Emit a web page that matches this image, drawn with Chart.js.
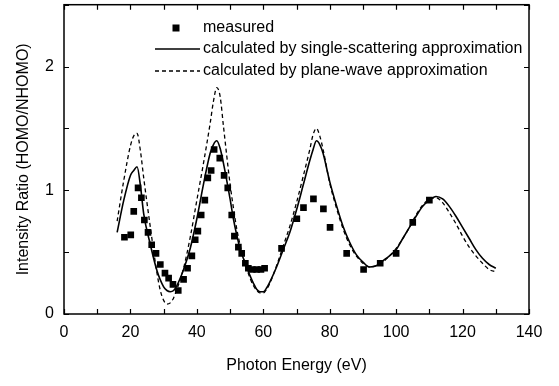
<!DOCTYPE html>
<html>
<head>
<meta charset="utf-8">
<script src="https://cdn.jsdelivr.net/npm/chart.js@4"></script>
<style>
  html, body { margin: 0; padding: 0; background: #fff; }
</style>
</head>
<body>
<canvas id="ratioChart" width="559" height="386"></canvas>
<script>
const FONT = '"Liberation Sans", Arial, Helvetica, sans-serif';

// measured HOMO/NHOMO intensity ratio
const measuredEnergy = [18.2, 20.1, 21.0, 22.3, 23.3, 24.2, 25.3, 26.4, 27.7, 29.0, 30.4, 31.5, 32.8, 34.4, 36.0, 37.2, 38.5, 39.5, 40.3, 41.3, 42.4, 43.3, 44.3, 45.2, 46.9, 48.2, 49.3, 50.5, 51.3, 52.5, 53.5, 54.6, 55.5, 56.7, 58.0, 59.3, 60.4, 65.5, 70.1, 72.1, 75.1, 78.1, 80.1, 85.1, 90.2, 95.2, 100.0, 105.0, 110.0];
const measuredRatio  = [0.62, 0.64, 0.83, 1.02, 0.94, 0.76, 0.66, 0.56, 0.49, 0.40, 0.33, 0.29, 0.24, 0.19, 0.28, 0.37, 0.47, 0.60, 0.67, 0.80, 0.92, 1.10, 1.16, 1.33, 1.26, 1.12, 1.02, 0.80, 0.63, 0.54, 0.49, 0.41, 0.37, 0.36, 0.36, 0.36, 0.37, 0.53, 0.77, 0.86, 0.93, 0.85, 0.70, 0.49, 0.36, 0.41, 0.49, 0.74, 0.92];

// single-scattering calculation
const ssEnergy = [16, 18, 20, 21, 22, 23, 24, 26, 28, 30, 31, 32, 33, 34, 36, 38, 40, 42, 44, 45, 46, 47, 48, 50, 51, 52, 53, 54, 55, 56, 57, 58, 59, 60, 61, 62, 64, 66, 68, 70, 72, 74, 75, 76, 77, 78, 80, 82, 84, 86, 88, 90, 92, 94, 96, 98, 100, 102, 104, 106, 108, 110, 112, 114, 116, 118, 120, 122, 124, 126, 128, 130];
const ssRatio  = [0.66, 0.92, 1.12, 1.16, 1.19, 1.04, 0.81, 0.56, 0.35, 0.22, 0.19, 0.18, 0.19, 0.23, 0.36, 0.53, 0.77, 1.05, 1.30, 1.37, 1.40, 1.34, 1.22, 0.93, 0.77, 0.64, 0.53, 0.45, 0.38, 0.31, 0.25, 0.20, 0.18, 0.18, 0.21, 0.26, 0.38, 0.52, 0.66, 0.84, 1.04, 1.24, 1.33, 1.40, 1.37, 1.30, 1.07, 0.88, 0.71, 0.58, 0.48, 0.42, 0.38, 0.39, 0.43, 0.47, 0.52, 0.61, 0.70, 0.79, 0.87, 0.92, 0.95, 0.93, 0.87, 0.79, 0.70, 0.61, 0.52, 0.45, 0.40, 0.37];

// plane-wave calculation
const pwEnergy = [16, 18, 20, 21, 22, 23, 24, 26, 28, 29, 30, 31, 32, 33, 34, 36, 38, 40, 42, 44, 45, 46, 47, 48, 50, 51, 52, 53, 54, 55, 56, 57, 58, 59, 60, 61, 62, 64, 66, 68, 70, 72, 74, 75, 76, 77, 78, 80, 82, 84, 86, 88, 90, 92, 94, 96, 98, 100, 102, 104, 106, 108, 110, 112, 114, 116, 118, 120, 122, 124, 126, 128, 130];
const pwRatio  = [0.75, 1.08, 1.36, 1.44, 1.46, 1.32, 1.10, 0.70, 0.33, 0.19, 0.11, 0.08, 0.09, 0.13, 0.20, 0.37, 0.62, 0.92, 1.22, 1.54, 1.72, 1.83, 1.76, 1.52, 1.05, 0.86, 0.69, 0.56, 0.45, 0.37, 0.29, 0.23, 0.19, 0.17, 0.17, 0.20, 0.25, 0.39, 0.55, 0.71, 0.90, 1.11, 1.33, 1.45, 1.50, 1.44, 1.33, 1.06, 0.86, 0.69, 0.56, 0.47, 0.41, 0.38, 0.39, 0.42, 0.47, 0.53, 0.61, 0.70, 0.80, 0.88, 0.93, 0.94, 0.90, 0.82, 0.73, 0.63, 0.54, 0.47, 0.41, 0.36, 0.34];

const seriesLabels = ['measured', 'calculated by single-scattering approximation', 'calculated by plane-wave approximation'];

const xy = (xs, ys) => xs.map((x, i) => ({ x: x, y: ys[i] }));

// closed frame with inward tick marks on all four sides
const frameTicks = {
  id: 'frameTicks',
  afterDraw(chart) {
    const { ctx, chartArea: a, scales: { x, y } } = chart;
    const len = 5;
    ctx.save();
    ctx.strokeStyle = '#000';
    ctx.lineWidth = 1.5;
    ctx.strokeRect(a.left, a.top, a.right - a.left, a.bottom - a.top);
    ctx.lineWidth = 1.2;
    ctx.beginPath();
    x.ticks.forEach(t => {
      const px = Math.round(x.getPixelForValue(t.value)) + 0.5;
      ctx.moveTo(px, a.bottom); ctx.lineTo(px, a.bottom - len);
      ctx.moveTo(px, a.top); ctx.lineTo(px, a.top + len);
    });
    y.ticks.forEach(t => {
      const py = Math.round(y.getPixelForValue(t.value)) + 0.5;
      ctx.moveTo(a.left, py); ctx.lineTo(a.left + len, py);
      ctx.moveTo(a.right, py); ctx.lineTo(a.right - len, py);
    });
    ctx.stroke();
    ctx.restore();
  }
};

// legend drawn inside the plot, top middle
const insideLegend = {
  id: 'insideLegend',
  afterDatasetsDraw(chart) {
    const ctx = chart.ctx;
    const x0 = 155, x1 = 200, textX = 203;
    const rows = [28, 49, 71];
    ctx.save();
    ctx.fillStyle = '#000';
    ctx.strokeStyle = '#000';
    ctx.fillRect(172.5, rows[0] - 3.5, 7, 7);
    ctx.lineWidth = 1.6;
    ctx.beginPath(); ctx.moveTo(x0, rows[1]); ctx.lineTo(x1, rows[1]); ctx.stroke();
    ctx.lineWidth = 1.3;
    ctx.setLineDash([4, 3]);
    ctx.beginPath(); ctx.moveTo(x0, rows[2]); ctx.lineTo(x1, rows[2]); ctx.stroke();
    ctx.setLineDash([]);
    ctx.font = '16px ' + FONT;
    ctx.textBaseline = 'middle';
    seriesLabels.forEach((t, i) => ctx.fillText(t, textX, rows[i]));
    ctx.restore();
  }
};

const tickFont = { family: FONT, size: 16 };
const noGrid = { display: true, drawOnChartArea: false, drawTicks: false };

new Chart(document.getElementById('ratioChart'), {
  data: {
    datasets: [
      {
        type: 'scatter',
        label: seriesLabels[0],
        data: xy(measuredEnergy, measuredRatio),
        pointStyle: 'rect',
        pointRadius: 4.7,
        backgroundColor: '#000',
        borderColor: '#000',
        borderWidth: 0,
        order: 0
      },
      {
        type: 'line',
        label: seriesLabels[1],
        data: xy(ssEnergy, ssRatio),
        borderColor: '#000',
        borderWidth: 1.6,
        pointRadius: 0,
        fill: false,
        cubicInterpolationMode: 'monotone',
        order: 1
      },
      {
        type: 'line',
        label: seriesLabels[2],
        data: xy(pwEnergy, pwRatio),
        borderColor: '#000',
        borderWidth: 1.3,
        borderDash: [4, 3],
        pointRadius: 0,
        fill: false,
        cubicInterpolationMode: 'monotone',
        order: 2
      }
    ]
  },
  options: {
    responsive: false,
    animation: false,
    devicePixelRatio: 1,
    layout: { padding: { top: 4, right: 30, left: 0, bottom: 0 } },
    plugins: {
      legend: { display: false },
      tooltip: { enabled: false }
    },
    scales: {
      x: {
        type: 'linear',
        position: 'bottom',
        min: 0, max: 140,
        ticks: {
          stepSize: 10, autoSkip: false, maxRotation: 0,
          color: '#000', font: tickFont, padding: 9,
          callback: v => (v % 20 === 0 ? v : '')
        },
        grid: noGrid,
        border: { display: false },
        title: { display: true, text: 'Photon Energy (eV)', color: '#000', font: tickFont, padding: { top: 0, bottom: 11 } },
        afterFit: s => { s.height = 72; s.paddingLeft = 0; s.paddingRight = 0; }
      },
      y: {
        type: 'linear',
        position: 'left',
        min: 0, max: 2.5,
        ticks: {
          stepSize: 0.5, autoSkip: false,
          color: '#000', font: tickFont, padding: 10,
          callback: v => (Number.isInteger(v) && v <= 2 ? v : '')
        },
        grid: noGrid,
        border: { display: false },
        title: { display: true, text: 'Intensity Ratio (HOMO/NHOMO)', color: '#000', font: tickFont, padding: { top: 14, bottom: 0 } },
        afterFit: s => { s.width = 64; s.paddingTop = 0; s.paddingBottom = 0; }
      }
    }
  },
  plugins: [frameTicks, insideLegend]
});
</script>
</body>
</html>
